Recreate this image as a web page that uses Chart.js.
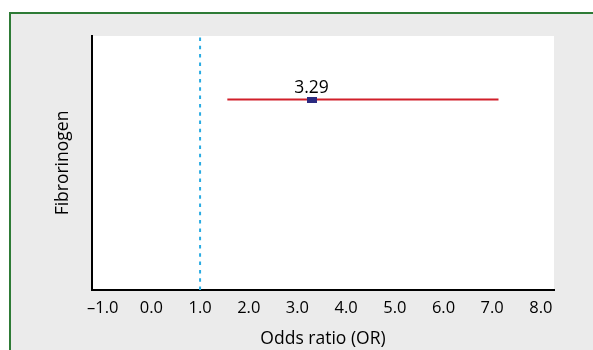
<!DOCTYPE html>
<html>
<head>
<meta charset="utf-8">
<script src="https://cdn.jsdelivr.net/npm/chart.js@4/dist/chart.umd.min.js"></script>
<style>
  html, body { margin: 0; padding: 0; background: #ffffff; }
  #wrap { position: relative; width: 593px; height: 350px; }
  #frame { position: absolute; left: 9px; top: 12px; right: 0; bottom: 0;
           background: #ebebeb; border-left: 2px solid #2e7b36; border-top: 2px solid #2e7b36; }
  canvas { position: absolute; left: 0; top: 0; }
</style>
</head>
<body>
<div id="wrap">
  <div id="frame"></div>
  <canvas id="c" width="593" height="350"></canvas>
</div>
<script>
// ---- data ----
const categories = ["Fibrorinogen"];
const oddsRatios = [3.29];
const ciLower = [1.56];
const ciUpper = [7.13];
const referenceLine = [1.0];
const xTickValues = [-1, 0, 1, 2, 3, 4, 5, 6, 7, 8];
const xAxisTitle = "Odds ratio (OR)";
const categoryPos = [0.75];

const FONT = "'Open Sans', 'Noto Sans', sans-serif";

// marker image (navy rectangle)
const marker = document.createElement('canvas');
marker.width = 10; marker.height = 6;
{ const m = marker.getContext('2d'); m.fillStyle = '#2b2a80'; m.fillRect(0, 0, 10, 6); }

const ciData = [];
categories.forEach((c, i) => { ciData.push({x: ciLower[i], y: categoryPos[i]}, {x: ciUpper[i], y: categoryPos[i]}); });
const pointData = categories.map((c, i) => ({x: oddsRatios[i], y: categoryPos[i]}));
const refData = [{x: referenceLine[0], y: 0}, {x: referenceLine[0], y: 1}];

const plotBg = {
  id: 'plotBg',
  beforeDraw(chart) {
    const {ctx, chartArea: a} = chart;
    ctx.save();
    ctx.fillStyle = '#ffffff';
    ctx.fillRect(a.left, a.top, a.right - a.left, a.bottom - a.top);
    ctx.restore();
  }
};

const valueLabels = {
  id: 'valueLabels',
  afterDatasetsDraw(chart) {
    const {ctx, scales} = chart;
    ctx.save();
    ctx.font = "17.5px " + FONT;
    ctx.fillStyle = '#000000';
    ctx.textAlign = 'center';
    ctx.textBaseline = 'alphabetic';
    categories.forEach((c, i) => {
      const x = scales.x.getPixelForValue(oddsRatios[i]);
      const y = scales.y.getPixelForValue(categoryPos[i]);
      ctx.fillText(oddsRatios[i].toFixed(2), x, y - 7);
    });
    ctx.restore();
  }
};

new Chart(document.getElementById('c'), {
  type: 'scatter',
  data: {
    datasets: [
      { data: refData, showLine: true, borderColor: '#29abe2', borderWidth: 2,
        borderDash: [3.5, 4.8], pointRadius: 0, order: 3 },
      { data: ciData, showLine: true, borderColor: '#d11f2a', borderWidth: 2,
        pointRadius: 0, order: 2 },
      { data: pointData, pointStyle: marker, pointRadius: 5, order: 1 }
    ]
  },
  options: {
    responsive: false,
    animation: false,
    events: [],
    layout: { padding: { left: 52.5, top: 36, right: 39, bottom: 0 } },
    plugins: { legend: { display: false }, tooltip: { enabled: false } },
    scales: {
      x: {
        type: 'linear', min: -1.22, max: 8.27,
        afterBuildTicks(scale) { scale.ticks = xTickValues.map(v => ({value: v})); },
        afterFit(scale) { scale.height = 60; },
        grid: { display: false, drawOnChartArea: false, drawTicks: true, tickLength: 5, color: '#000000', tickWidth: 1.5 },
        border: { display: true, color: '#000000', width: 2 },
        ticks: {
          color: '#000000', padding: 3, maxRotation: 0, autoSkip: false,
          font: { family: FONT, size: 16.5 },
          callback: v => (v < 0 ? '\u2013' + Math.abs(v).toFixed(1) : v.toFixed(1))
        },
        title: { display: true, text: xAxisTitle, color: '#000000',
                 font: { family: FONT, size: 17.5 }, padding: { top: 0, bottom: 0 } }
      },
      y: {
        type: 'linear', min: 0, max: 1,
        afterFit(scale) { scale.width = 39.5; },
        grid: { display: false, drawTicks: false },
        border: { display: true, color: '#000000', width: 2 },
        ticks: { display: false },
        title: { display: true, text: categories[0], color: '#000000',
                 font: { family: FONT, size: 17.5 }, padding: { top: 0, bottom: 0 } }
      }
    }
  },
  plugins: [plotBg, valueLabels]
});
</script>
</body>
</html>
